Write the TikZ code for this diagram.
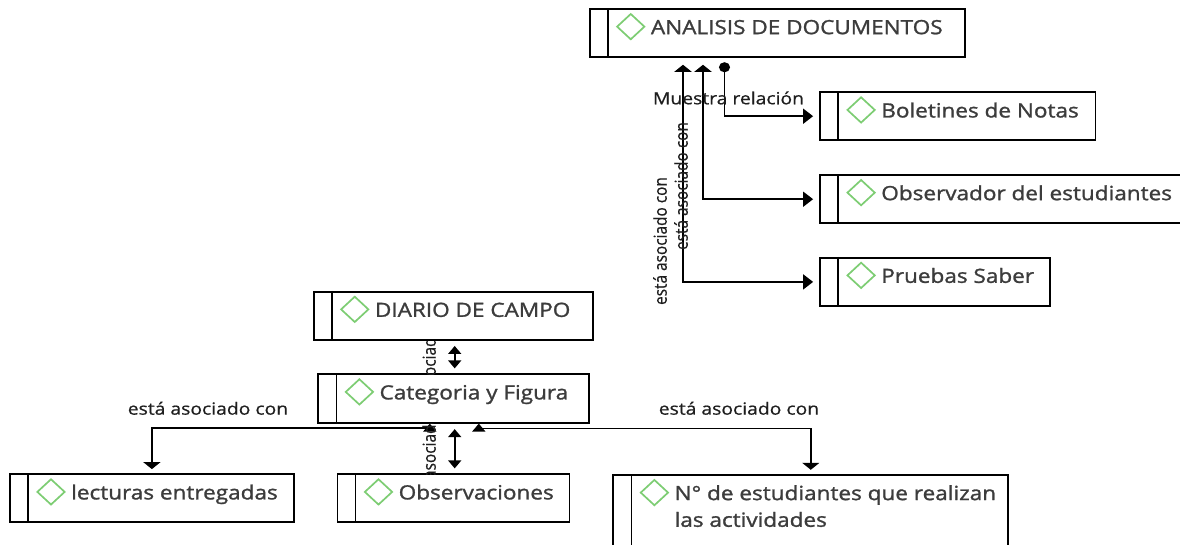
\documentclass[tikz,border=0pt]{standalone}
\usepackage{fontspec}
\setmainfont{Open Sans}[FakeStretch=1.15]
\newfontfamily\boxfont{Open Sans}[FakeStretch=1.15, FakeBold=1.3]
\newfontfamily\labfont{Open Sans}[FakeStretch=1.15, FakeBold=0.7]
\newfontfamily\rotfont{Open Sans}[FakeBold=0.7]
\usetikzlibrary{arrows.meta,shapes.geometric}
\definecolor{dgreen}{RGB}{125,205,115}
\definecolor{btext}{RGB}{60,60,60}
\definecolor{ltext}{RGB}{30,30,30}
\tikzset{
  box/.style={draw=black, line width=1.8pt, fill=white, rectangle, inner sep=0pt},
  divl/.style={draw=black, line width=1.8pt},
  dmd/.style={diamond, draw=dgreen, line width=1.7pt, minimum width=28pt, minimum height=26pt, inner sep=0pt},
  btxt/.style={anchor=base west, inner sep=0pt, text=btext, font=\boxfont\fontsize{19.6}{26.7}\selectfont},
  ltxt/.style={inner sep=0pt, text=ltext, font=\labfont\fontsize{16.8}{20}\selectfont},
  rtxt/.style={inner sep=0pt, text=ltext, rotate=90, font=\rotfont\fontsize{15.4}{18}\selectfont},
  conn/.style={draw=black, line width=1.6pt},
  tipv/.tip={Triangle[length=7pt,width=17pt]},
  tiph/.tip={Triangle[length=10pt,width=15pt]},
  tipd/.tip={Triangle[length=8pt,width=13pt]},
  dot/.tip={Circle[length=10pt,width=11pt]}
}
\newcommand{\dbox}[6]{%
  \node[box, minimum width=#4, minimum height=#5] (#1) at (#2,#3) {};
  \draw[divl] ([xshift=19pt]#1.north west) -- ([xshift=19pt]#1.south west);
  \node[dmd] (#1-d) at ([xshift=42pt,yshift=-18.5pt]#1.north west) {};
  \node[btxt] (#1-t) at ([xshift=62pt,yshift=-26pt]#1.north west) {#6};
}
\newcommand{\rlab}{\scalebox{1}[1.15]{está asociado con}}
\begin{document}
\begin{tikzpicture}[x=1pt,y=-1pt]
\useasboundingbox (0,0) rectangle (1180,544);
% boxes
\dbox{ana}{777.5}{33.2}{375.7}{48.3}{ANALISIS DE DOCUMENTOS}
\dbox{bol}{957.7}{116.2}{275.4}{47.7}{Boletines de Notas}
\dbox{obs}{1005}{199.2}{370}{48.3}{Observador del estudiantes}
\dbox{pru}{935}{281.9}{230}{48.3}{Pruebas Saber}
\dbox{dia}{453.4}{315.9}{279.5}{48.3}{DIARIO DE CAMPO}
\dbox{cat}{453.8}{398.5}{271}{48.4}{Categoria y Figura}
\dbox{lec}{151.9}{498.3}{284}{48}{lecturas entregadas}
\dbox{obv}{453.4}{498.3}{232}{48}{Observaciones}
\dbox{num}{810.8}{517.5}{395}{85}{\vtop{\baselineskip=26.7pt\hbox{N° de estudiantes que realizan}\hbox{las actividades}}}
% top connectors
\draw[conn, {dot}-{tiph}, shorten >=6pt] ([xshift=-53pt,yshift=-4pt]ana.south) |- (bol.west);
\draw[conn, {tipv}-{tiph}, shorten <=6.5pt, shorten >=6pt] ([xshift=-74.5pt]ana.south) |- (obs.west);
\draw[conn, {tipv}-{tiph}, shorten <=6.5pt, shorten >=6pt] ([xshift=-94.5pt]ana.south) |- (pru.west);
\node[ltxt, anchor=base] (lmr) at (728.5,104.3) {Muestra relación};
\node[rtxt] (la1) at (660,241) {\rlab};
\node[rtxt] (la2) at (681,186) {\rlab};
% bottom connectors
\draw[conn, {tipd}-{tipd}, shorten <=5pt, shorten >=5pt] ([xshift=1.3pt]dia.south) -- ([xshift=0.9pt]cat.north);
\draw[conn, {tipd}-{tipd}, shorten <=5.5pt, shorten >=5pt] ([xshift=0.9pt]cat.south) -- ([xshift=1.3pt]obv.north);
\draw[conn, {tipd}-{tipv}, shorten >=4.3pt] ([xshift=-24pt]cat.south) -- ++(0,4.3) -| (lec.north);
\draw[conn, {tipd}-{tipv}, shorten >=4.3pt] ([xshift=25pt]cat.south) -- ++(0,5) -| (num.north);
\node[ltxt] (lb1) at (208,408.3) {está asociado con};
\node[ltxt] (lb2) at (739,408.3) {está asociado con};
\begin{scope}
  \clip (416,341) rectangle (442,374);
  \node[rtxt] (lc1) at (429,362) {\rlab};
\end{scope}
\begin{scope}
  \clip (416,423) rectangle (442,474);
  \node[rtxt] (lc2) at (429,449) {\rlab};
\end{scope}
\end{tikzpicture}
\end{document}
